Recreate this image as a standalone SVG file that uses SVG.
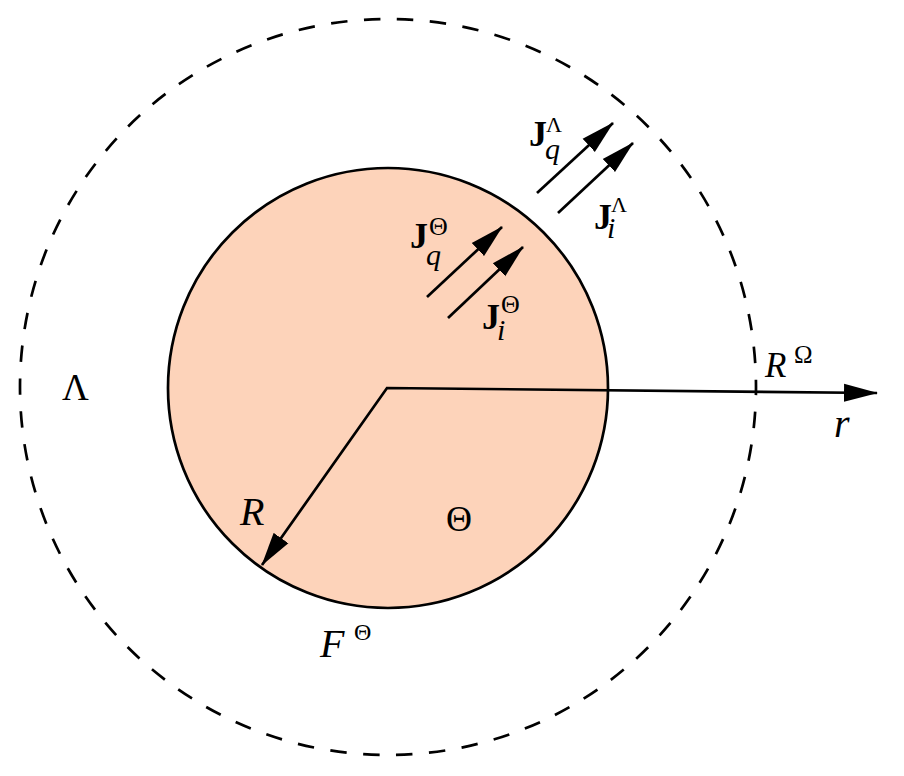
<svg xmlns="http://www.w3.org/2000/svg" width="904" height="776" viewBox="0 0 904 776">
<style>
text{font-family:'Liberation Serif','DejaVu Serif','Times New Roman',serif;fill:#000}
.i{font-style:italic}
.b{font-weight:bold}
.ln{stroke:#000;stroke-width:2.7;fill:none}
</style>
<defs>
<marker id="ah" markerUnits="userSpaceOnUse" markerWidth="36" markerHeight="20" refX="33" refY="10" orient="auto-start-reverse">
<path d="M0,1 L34,10 L0,19 Z" fill="#000"/>
</marker>
</defs>
<rect width="904" height="776" fill="#fff"/>
<g id="outer-region">
<circle cx="388" cy="387" r="368" fill="none" stroke="#000" stroke-width="2.7" stroke-dasharray="16.5 16.53" stroke-dashoffset="8.26"/>
<text x="62" y="400" font-size="37">Λ</text>
</g>
<g id="inner-region">
<circle cx="388" cy="388" r="220" fill="#FDD3BA" stroke="#000" stroke-width="2.7"/>
<text x="446" y="531" font-size="36">Θ</text>
</g>
<g id="connectors">
<path class="ln" d="M262,565 L387,388 L877,393" marker-start="url(#ah)" marker-end="url(#ah)"/>
<path class="ln" d="M427,297 L502,227" marker-end="url(#ah)"/>
<path class="ln" d="M448,318 L523,247" marker-end="url(#ah)"/>
<path class="ln" d="M537,193 L613,123" marker-end="url(#ah)"/>
<path class="ln" d="M558,213 L633,143" marker-end="url(#ah)"/>
</g>
<g id="labels">
<text class="i" x="240" y="525" font-size="40">R</text>
<text class="i" x="320" y="657" font-size="40">F</text>
<text x="354" y="640" font-size="24">Θ</text>
<text class="i" x="765" y="377" font-size="35">R</text>
<text x="794" y="363" font-size="25">Ω</text>
<text class="i" x="834" y="437" font-size="40">r</text>
<text class="b" x="410" y="248" font-size="36">J</text>
<text x="429" y="235" font-size="26">Θ</text>
<text class="i" x="426" y="265" font-size="30">q</text>
<text class="b" x="482" y="329" font-size="36">J</text>
<text x="501" y="313" font-size="26">Θ</text>
<text class="i" x="497" y="340" font-size="30">i</text>
<text class="b" x="529" y="146" font-size="36">J</text>
<text x="546" y="132" font-size="22">Λ</text>
<text class="i" x="545" y="159" font-size="30">q</text>
<text class="b" x="594" y="229" font-size="36">J</text>
<text x="611" y="212" font-size="22">Λ</text>
<text class="i" x="607" y="238" font-size="30">i</text>
</g>
</svg>
